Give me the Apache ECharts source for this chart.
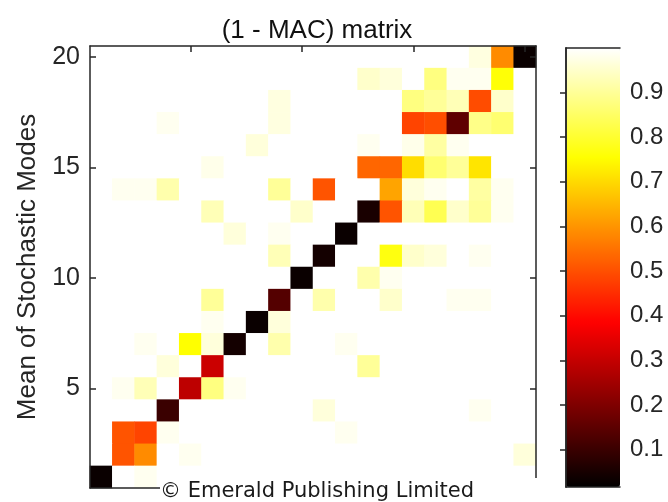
<!DOCTYPE html>
<html><head><meta charset="utf-8">
<script src="https://cdn.jsdelivr.net/npm/echarts@6/dist/echarts.min.js"></script>
<style>html,body{margin:0;padding:0;background:#fff}#c{width:668px;height:502px}</style>
</head><body><div id="c"></div>
<script>
// Mode labels (both axes)
const modeLabels = ['1','2','3','4','5','6','7','8','9','10','11','12','13','14','15','16','17','18','19','20'];
// Colour bar tick values
const colorbarTicks = [0.1, 0.2, 0.3, 0.4, 0.5, 0.6, 0.7, 0.8, 0.9];
const colorMin = 0.016, colorMax = 1;
// (1 - MAC) values: first row = mean mode 20 (top) ... last row = mean mode 1 (bottom); columns = stochastic modes 1..20
const row20 = [1,1,1,1,1,1,1,1,1,1,1,1,1,1,1,1,1,0.97,0.586,0.03];
const row19 = [1,1,1,1,1,1,1,1,1,1,1,1,0.95,0.965,1,0.877,0.985,0.985,0.76,1];
const row18 = [1,1,1,1,1,1,1,1,0.97,1,1,1,1,1,0.877,0.90,0.93,0.495,0.95,1];
const row17 = [1,1,1,0.985,1,1,1,1,0.97,1,1,1,1,1,0.483,0.498,0.154,0.885,0.862,1];
const row16 = [1,1,1,1,1,1,1,0.965,1,1,1,1,0.985,1,0.98,0.91,0.985,1,1,1];
const row15 = [1,1,1,1,1,0.98,1,1,1,1,1,1,0.532,0.532,0.705,0.862,0.90,0.717,1,1];
const row14 = [1,0.985,0.985,0.92,1,1,1,1,0.90,1,0.507,1,1,0.623,0.965,0.985,1,0.91,0.985,1];
const row13 = [1,1,1,1,1,0.93,1,1,1,0.95,1,1,0.052,0.507,0.93,0.833,0.95,0.90,0.985,1];
const row12 = [1,1,1,1,1,1,0.965,1,0.985,1,1,0.03,1,1,1,1,1,1,1,1];
const row11 = [1,1,1,1,1,1,1,1,0.93,1,0.045,1,1,0.768,0.95,0.965,1,0.985,1,1];
const row10 = [1,1,1,1,1,1,1,1,1,0.03,1,1,0.92,0.985,1,1,1,1,1,1];
const row9  = [1,1,1,1,1,0.90,1,1,0.138,1,0.92,1,1,0.95,1,1,0.985,0.985,1,1];
const row8  = [1,1,1,1,1,0.985,1,0.03,0.965,1,1,1,1,1,1,1,1,1,1,1];
const row7  = [1,1,0.985,1,0.754,0.965,0.045,1,0.92,1,1,0.985,1,1,1,1,1,1,1,1];
const row6  = [1,1,1,0.965,1,0.31,1,1,1,1,1,1,0.90,1,1,1,1,1,1,1];
const row5  = [1,0.985,0.93,1,0.29,0.877,0.985,1,1,1,1,1,1,1,1,1,1,1,1,1];
const row4  = [1,1,1,0.10,1,1,1,1,1,1,0.965,1,1,1,1,1,1,0.985,1,1];
const row3  = [1,0.507,0.483,0.985,1,1,1,1,1,1,1,0.985,1,1,1,1,1,1,1,1];
const row2  = [1,0.507,0.586,1,0.985,1,1,1,1,1,1,1,1,1,1,1,1,1,1,0.965];
const row1  = [0.03,1,0.985,1,1,1,1,1,1,1,1,1,1,1,1,1,1,1,1,1];
const macRows = [row20,row19,row18,row17,row16,row15,row14,row13,row12,row11,row10,row9,row8,row7,row6,row5,row4,row3,row2,row1];

// "hot" colormap stops (equally spaced)
const hotStops = ['#000000','#550000','#aa0000','#ff0000','#ff5500','#ffaa00','#ffff00','#ffff80','#ffffff'];

const cells = [];
macRows.forEach((row, r) => row.forEach((v, c) => cells.push([c, 19 - r, v])));

const axisColor = '#262626';
const FONT = 'Liberation Sans';
const line = {show: true, lineStyle: {color: axisColor, width: 1.5}};
const every5 = (i) => (i + 1) % 5 === 0;
const tick5 = {show: true, inside: true, alignWithLabel: true, interval: every5, length: 6, lineStyle: {color: axisColor, width: 1.5}};

const chart = echarts.init(document.getElementById('c'));
chart.setOption({
  animation: false,
  backgroundColor: '#fff',
  title: {
    text: '(1 - MAC) matrix', left: 312, textAlign: 'center', top: 13,
    textStyle: {fontSize: 26, fontWeight: 'normal', color: '#111', fontFamily: FONT}
  },
  grid: [
    {left: 90, top: 46, width: 446, height: 442},
    {left: 566, top: 48, width: 54, height: 439}
  ],
  xAxis: [
    {type: 'category', data: modeLabels, gridIndex: 0, position: 'top', z: 10,
     axisLine: line, axisTick: tick5, axisLabel: {show: false}, splitLine: {show: false}},
    {type: 'category', data: modeLabels, gridIndex: 0, position: 'bottom', z: 10,
     axisLine: line, axisTick: {show: false}, axisLabel: {show: false}, splitLine: {show: false}},
    {type: 'value', gridIndex: 1, min: 0, max: 1, position: 'bottom', z: 10,
     axisLine: line, axisTick: {show: false}, axisLabel: {show: false}, splitLine: {show: false}},
    {type: 'value', gridIndex: 1, min: 0, max: 1, position: 'top', z: 10,
     axisLine: line, axisTick: {show: false}, axisLabel: {show: false}, splitLine: {show: false}}
  ],
  yAxis: [
    {type: 'category', data: modeLabels, gridIndex: 0, position: 'left', z: 10,
     axisLine: line, axisTick: tick5,
     axisLabel: {interval: every5, fontSize: 25, color: axisColor, margin: 10, fontFamily: FONT},
     name: 'Mean of Stochastic Modes', nameLocation: 'middle', nameGap: 46,
     nameTextStyle: {fontSize: 26, color: axisColor, fontFamily: FONT},
     splitLine: {show: false}},
    {type: 'category', data: modeLabels, gridIndex: 0, position: 'right', z: 10,
     axisLine: line, axisTick: tick5, axisLabel: {show: false}, splitLine: {show: false}},
    {type: 'value', gridIndex: 1, min: colorMin, max: colorMax, position: 'right', z: 10,
     axisLine: line,
     axisTick: {show: true, inside: true, length: 6, customValues: colorbarTicks, lineStyle: {color: axisColor, width: 1.5}},
     axisLabel: {customValues: colorbarTicks, formatter: (v) => v.toFixed(1), fontSize: 24, color: axisColor, margin: 10, fontFamily: FONT},
     splitLine: {show: false}},
    {type: 'value', gridIndex: 1, min: colorMin, max: colorMax, position: 'left', z: 10,
     axisLine: line, axisTick: {show: false}, axisLabel: {show: false}, splitLine: {show: false}}
  ],
  visualMap: {
    type: 'continuous', min: colorMin, max: colorMax, seriesIndex: 0, calculable: false,
    orient: 'vertical', left: 566, top: 48, itemWidth: 54, itemHeight: 439, padding: 0,
    hoverLink: false, inRange: {color: hotStops}
  },
  series: [{
    type: 'heatmap', xAxisIndex: 0, yAxisIndex: 0, data: cells,
    emphasis: {disabled: true}, itemStyle: {borderWidth: 0}
  }],
  graphic: {
    z: 100,
    elements: [
      {type: 'rect', z: 100, shape: {x: 160, y: 478, width: 392, height: 24}, style: {fill: '#fff'}},
      {type: 'text', z: 101, x: 317, y: 492,
       style: {text: '© Emerald Publishing Limited', font: '21px "DejaVu Sans"', fill: '#1a1a1a', align: 'center', verticalAlign: 'middle'}}
    ]
  }
});
</script></body></html>
